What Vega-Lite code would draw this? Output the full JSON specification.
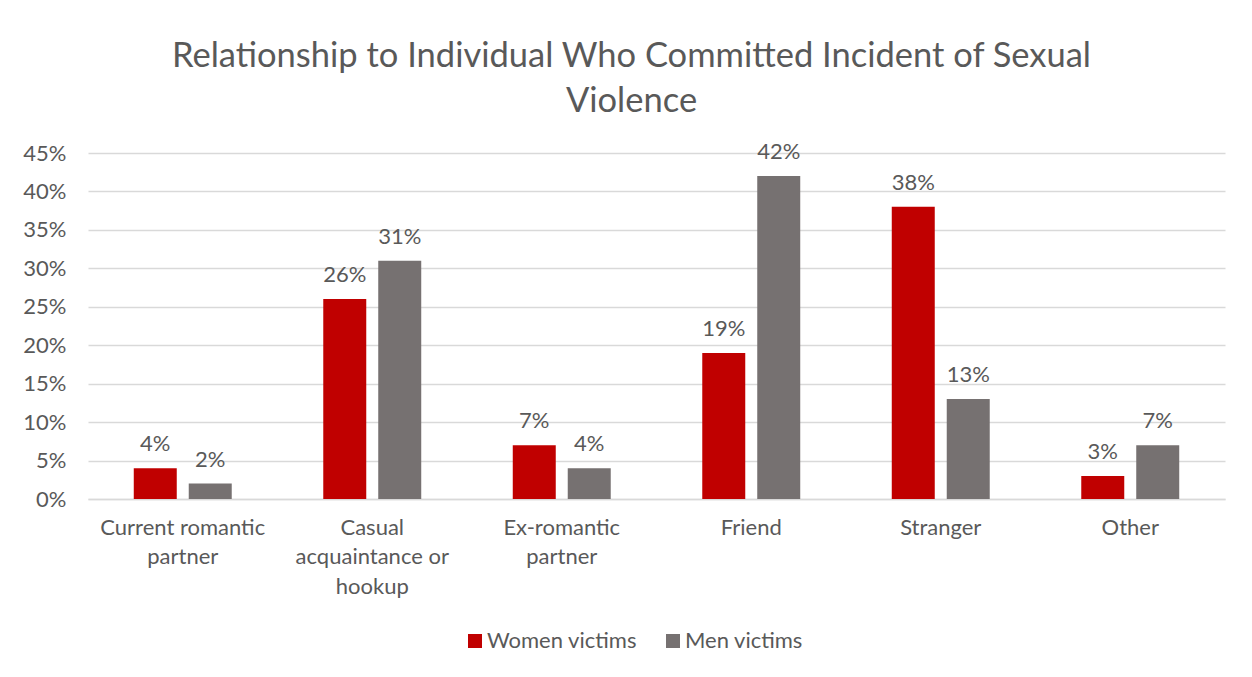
{
  "$schema": "https://vega.github.io/schema/vega-lite/v6.json",
  "autosize": {"type": "none"},
  "width": 1137,
  "height": 346,
  "padding": {"left": 88, "top": 153, "right": 27, "bottom": 178},
  "background": "white",
  "config": {
    "font": "Lato",
    "view": {"stroke": null},
    "axis": {"labelFont": "Lato", "labelColor": "#595959", "labelFontSize": 22, "ticks": false, "titleFontSize": 0}
  },
  "title": {
    "text": ["Relationship to Individual Who Committed Incident of Sexual", "Violence"],
    "fontSize": 34.5,
    "font": "Lato",
    "fontWeight": "normal",
    "color": "#595959",
    "anchor": "middle",
    "lineHeight": 45,
    "offset": 22,
    "dx": -25
  },
  "data": {
    "values": [
      {"category": "Current romantic partner", "group": "Women victims", "value": 0.04},
      {"category": "Current romantic partner", "group": "Men victims", "value": 0.02},
      {"category": "Casual acquaintance or hookup", "group": "Women victims", "value": 0.26},
      {"category": "Casual acquaintance or hookup", "group": "Men victims", "value": 0.31},
      {"category": "Ex-romantic partner", "group": "Women victims", "value": 0.07},
      {"category": "Ex-romantic partner", "group": "Men victims", "value": 0.04},
      {"category": "Friend", "group": "Women victims", "value": 0.19},
      {"category": "Friend", "group": "Men victims", "value": 0.42},
      {"category": "Stranger", "group": "Women victims", "value": 0.38},
      {"category": "Stranger", "group": "Men victims", "value": 0.13},
      {"category": "Other", "group": "Women victims", "value": 0.03},
      {"category": "Other", "group": "Men victims", "value": 0.07}
    ]
  },
  "encoding": {
    "x": {
      "field": "category",
      "type": "nominal",
      "sort": null,
      "title": null,
      "scale": {"paddingInner": 0.483, "paddingOuter": 0.2415},
      "axis": {
        "labelAngle": 0,
        "labelPadding": 18,
        "labelLineHeight": 29.5,
        "labelBaseline": "top",
        "domainColor": "#D9D9D9",
        "domainWidth": 1.5,
        "labelExpr": "datum.value == 'Current romantic partner' ? ['Current romantic', 'partner'] : datum.value == 'Casual acquaintance or hookup' ? ['Casual', 'acquaintance or', 'hookup'] : datum.value == 'Ex-romantic partner' ? ['Ex-romantic', 'partner'] : datum.value"
      }
    },
    "xOffset": {
      "field": "group",
      "type": "nominal",
      "sort": ["Women victims", "Men victims"],
      "scale": {"paddingInner": 0.218, "paddingOuter": 0}
    },
    "y": {
      "field": "value",
      "type": "quantitative",
      "title": null,
      "scale": {"domain": [0, 0.45]},
      "axis": {
        "format": ".0%",
        "values": [0, 0.05, 0.1, 0.15, 0.2, 0.25, 0.3, 0.35, 0.4, 0.45],
        "labelPadding": 22,
        "domain": false,
        "gridColor": "#D9D9D9",
        "gridWidth": 1.5
      }
    }
  },
  "layer": [
    {
      "mark": {"type": "bar"},
      "encoding": {
        "color": {
          "field": "group",
          "type": "nominal",
          "sort": ["Women victims", "Men victims"],
          "scale": {"domain": ["Women victims", "Men victims"], "range": ["#C00000", "#767171"]},
          "legend": {
            "title": null,
            "orient": "none",
            "direction": "horizontal",
            "legendX": 376,
            "legendY": 477,
            "symbolType": "square",
            "symbolSize": 196,
            "symbolStrokeWidth": 0,
            "labelFontSize": 22,
            "labelFont": "Lato",
            "labelColor": "#595959",
            "labelOffset": 1,
            "columnPadding": 25
          }
        }
      }
    },
    {
      "mark": {"type": "text", "baseline": "bottom", "dy": -12, "fontSize": 22, "color": "#595959", "font": "Lato"},
      "encoding": {
        "text": {"field": "value", "type": "quantitative", "format": ".0%"}
      }
    }
  ]
}
